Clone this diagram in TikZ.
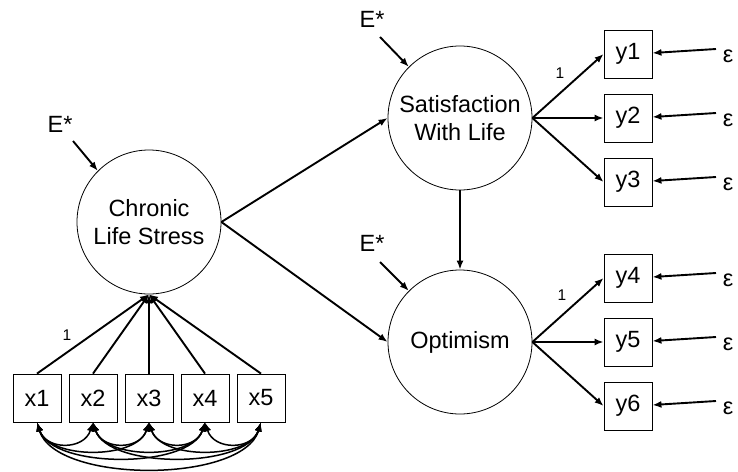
\documentclass[tikz,border=0pt]{standalone}
\usepackage{fontspec}
\setmainfont{Liberation Sans}
\usetikzlibrary{arrows.meta}
\begin{document}
\begin{tikzpicture}[x=1pt,y=-1pt,
  lat/.style={draw, circle, line width=0.8pt, minimum size=144pt, inner sep=0pt, align=center, font=\fontsize{23.5}{28}\selectfont},
  obs/.style={draw, rectangle, line width=0.8pt, minimum size=48pt, inner sep=0pt, font=\fontsize{23.5}{28}\selectfont},
  lbl/.style={inner sep=0pt, font=\fontsize{23.5}{28}\selectfont},
  small/.style={inner sep=0pt, font=\fontsize{15.5}{18}\selectfont},
  arr/.style={line width=1.9pt, -{Latex[length=9pt,width=7pt]}},
  cov/.style={line width=1.5pt, {Latex[length=9pt,width=7pt]}-{Latex[length=9pt,width=7pt]}},
]
\useasboundingbox (0,0) rectangle (738,471);

% latent variables
\node[lat] (C) at (149,222) {Chronic\\Life Stress};
\node[lat] (S) at (460,118) {Satisfaction\\With Life};
\node[lat] (O) at (460,342) {Optimism};

% disturbances
\node[lbl] (eC) at (60,124) {E*};
\node[lbl] (eS) at (372,19) {E*};
\node[lbl] (eO) at (372,243) {E*};
\coordinate (eCs) at (73,141);
\coordinate (eSs) at (380,37);
\coordinate (eOs) at (380,262);
\draw[arr] (eCs) -- (C.135);
\draw[arr] (eSs) -- (S.135);
\draw[arr] (eOs) -- (O.135);

% structural paths
\draw[arr] (C.east) -- (S.west);
\draw[arr] (C.east) -- (O.west);
\draw[arr] (S.south) -- (O.north);

% y indicators
\foreach \i/\yy in {1/54,2/118,3/182,4/278,5/342,6/406}{
  \node[obs] (y\i) at (628,\yy) {y\i};
  \node[lbl] (ey\i) at (728,\yy+2) {ε};
  \coordinate (eys\i) at (716,\yy-5);
  \draw[arr] (eys\i) -- ([yshift=1pt]y\i.east);
}
\foreach \i in {1,2,3}{ \draw[arr] (S.east) -- (y\i.west); }
\foreach \i in {4,5,6}{ \draw[arr] (O.east) -- (y\i.west); }
\node[small] (l1) at (560,73) {1};
\node[small] (l2) at (562,295) {1};

% x indicators
\foreach \i/\xx in {1/37,2/93,3/149,4/205,5/261}{
  \node[obs] (x\i) at (\xx,398) {x\i};
}
\foreach \i in {1,...,5}{ \draw[arr] (x\i.north) -- (C.south); }
\node[small] (l3) at (67,335) {1};

% covariances
\foreach \a in {1,...,4}{
  \pgfmathtruncatemacro{\b}{\a+1}
  \foreach \bb in {\b,...,5}{
    \pgfmathsetmacro{\d}{(\bb-\a==4 ? 46 : 14+7*(\bb-\a))/0.75}
    \pgfmathsetmacro{\s}{6+3*(\bb-\a)}
    \draw[cov] (x\a.south) .. controls +(\s,\d) and +(-\s,\d) .. (x\bb.south);
  }
}
\end{tikzpicture}
\end{document}
